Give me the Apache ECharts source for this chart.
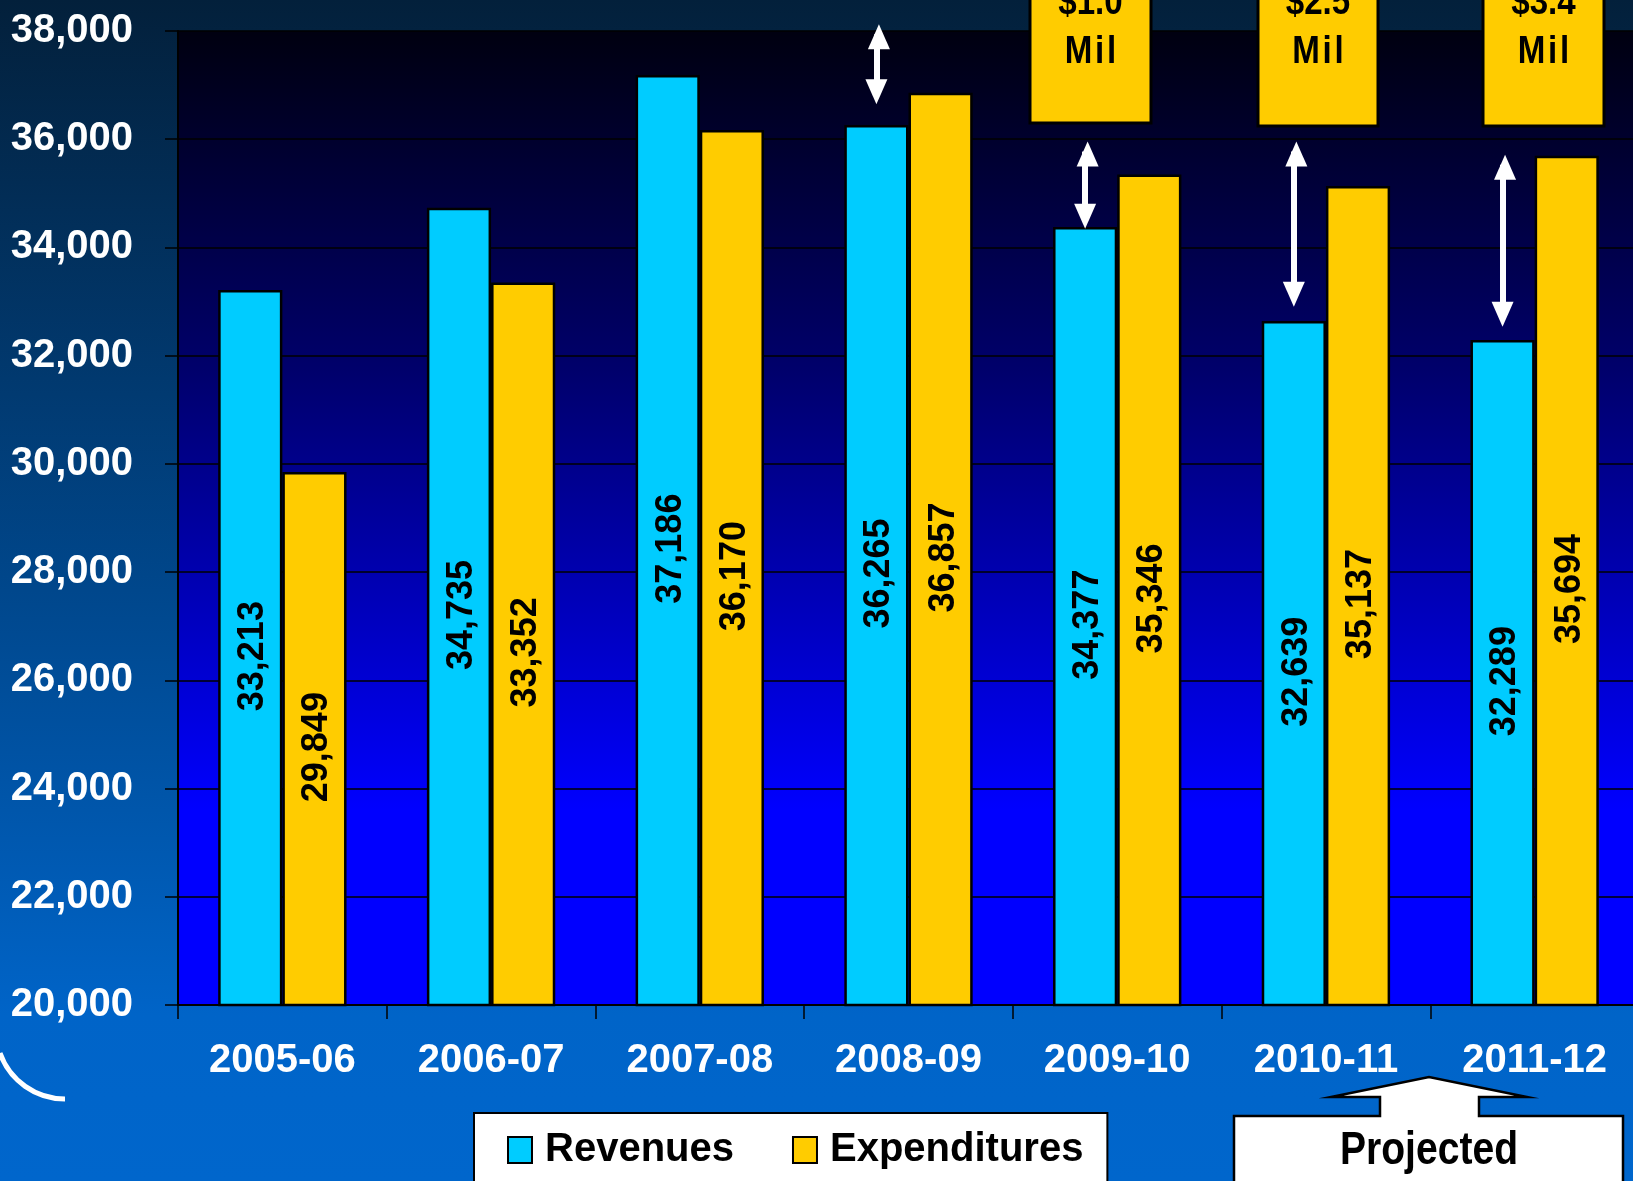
<!DOCTYPE html>
<html>
<head>
<meta charset="utf-8">
<script src="https://cdn.jsdelivr.net/npm/echarts@6/dist/echarts.min.js"></script>
<style>
html,body{margin:0;padding:0;background:#003a78;}
#chart{width:1633px;height:1181px;}
</style>
</head>
<body>
<div id="chart"></div>
<script>
// ---- data ----
const categories = ['2005-06','2006-07','2007-08','2008-09','2009-10','2010-11','2011-12'];
const revenues = [33213, 34735, 37186, 36265, 34377, 32639, 32289];
const expenditures = [29849, 33352, 36170, 36857, 35346, 35137, 35694];
const yTicks = {min: 20000, max: 38000, step: 2000};
// gap arrows (category, low value, high value)
const gapArrows = [
  ['2008-09', 36877, 37939],
  ['2009-10', 34577, 35772],
  ['2010-11', 33136, 35772],
  ['2011-12', 32766, 35526]
];
const gapLabels = ['$1.0', '$2.5', '$3.4'];
const gapUnit = 'Mil';
const seriesNames = ['Revenues', 'Expenditures'];
const projectedText = 'Projected';

const FONT = "'Liberation Sans Narrow','Arial Narrow','Liberation Sans',Arial,sans-serif";
const fmt = v => Number(v).toLocaleString('en-US');

const chart = echarts.init(document.getElementById('chart'), null, {renderer: 'canvas'});

const boxPos = [
  {x: 1030, w: 121, b: 123},
  {x: 1258, w: 120, b: 126},
  {x: 1483, w: 121, b: 126}
];
const boxGraphics = [];
gapLabels.forEach((lab, i) => {
  const p = boxPos[i];
  const cx = p.x + p.w / 2;
  boxGraphics.push(
    {type: 'rect', z: 200, shape: {x: p.x, y: -40, width: p.w, height: p.b + 40},
     style: {fill: '#ffcc00', stroke: '#000', lineWidth: 3}},
    {type: 'text', z: 201, x: cx, y: 23, scaleX: 0.85,
     style: {text: lab, fill: '#000', font: "bold 39px " + FONT, textAlign: 'center', textVerticalAlign: 'bottom'}},
    {type: 'text', z: 201, x: cx, y: 72, scaleX: 0.85,
     style: {text: gapUnit.split('').join('\u200A'), fill: '#000', font: "bold 39px " + FONT, textAlign: 'center', textVerticalAlign: 'bottom'}}
  );
});

const labelStyle = {show: true, position: 'inside', rotate: 90, offset: [-8, 3], color: '#000', fontFamily: FONT, fontWeight: 'bold', fontSize: 36, formatter: p => fmt(p.value)};

const option = {
  animation: false,
  backgroundColor: {
    type: 'linear', x: 0, y: 0, x2: 0, y2: 1,
    colorStops: [
      {offset: 0, color: '#03203b'},
      {offset: 0.5, color: '#00478c'},
      {offset: 0.86, color: '#0064c8'},
      {offset: 1, color: '#0066cc'}
    ]
  },
  grid: {
    left: 178, top: 31, right: -6, bottom: 176,
    outerBoundsMode: 'none', containLabel: false,
    show: true, borderWidth: 0,
    backgroundColor: {
      type: 'linear', x: 0, y: 0, x2: 0, y2: 1,
      colorStops: [
        {offset: 0, color: '#000010'},
        {offset: 0.35, color: '#00006c'},
        {offset: 0.8, color: '#0000ff'},
        {offset: 1, color: '#0000ff'}
      ]
    }
  },
  legend: {
    left: 474, top: 1113,
    orient: 'horizontal',
    data: seriesNames,
    icon: 'rect',
    itemWidth: 24, itemHeight: 26, itemGap: 58,
    padding: [12, 24, 40, 33],
    backgroundColor: '#fff', borderColor: '#000', borderWidth: 2,
    textStyle: {color: '#000', fontFamily: FONT, fontWeight: 'bold', fontSize: 40, lineHeight: 50, padding: [0, 0, 0, 8]}
  },
  xAxis: {
    type: 'category', data: categories,
    boundaryGap: true,
    axisLine: {show: true, lineStyle: {color: '#000', width: 2}},
    axisTick: {show: true, length: 14, lineStyle: {color: '#000', width: 1.5}},
    axisLabel: {interval: 0, color: '#fff', fontFamily: FONT, fontWeight: 'bold', fontSize: 40, margin: 36, hideOverlap: false},
    splitLine: {show: false}
  },
  yAxis: {
    type: 'value', min: yTicks.min, max: yTicks.max, interval: yTicks.step,
    axisLine: {show: true, lineStyle: {color: '#000', width: 2}},
    axisTick: {show: true, length: 13, lineStyle: {color: '#000', width: 1.5}},
    axisLabel: {color: '#fff', fontFamily: FONT, fontWeight: 'bold', fontSize: 40, margin: 45, formatter: fmt},
    splitLine: {show: true, lineStyle: {color: '#000', width: 1.5}}
  },
  series: [
    {
      name: seriesNames[0], type: 'bar', data: revenues,
      barGap: '0%', barCategoryGap: '38.5%',
      itemStyle: {color: '#00ccff', borderColor: '#000', borderWidth: 2.5},
      label: labelStyle,
      emphasis: {disabled: true},
      markLine: {
        silent: true,
        symbol: ['triangle', 'triangle'],
        symbolSize: [22, 25],
        symbolOffset: [0, 2.5],
        lineStyle: {color: '#fff', width: 6, type: 'solid'},
        itemStyle: {color: '#fff'},
        label: {show: false},
        emphasis: {disabled: true},
        data: gapArrows.map(a => [{coord: [a[0], a[1]]}, {coord: [a[0], a[2]]}])
      }
    },
    {
      name: seriesNames[1], type: 'bar', data: expenditures,
      barGap: '0%', barCategoryGap: '38.5%',
      itemStyle: {color: '#ffcc00', borderColor: '#000', borderWidth: 2.5},
      label: labelStyle,
      emphasis: {disabled: true}
    }
  ],
  graphic: [
    ...boxGraphics,
    {
      type: 'polygon', z: 200,
      shape: {points: [[1234,1200],[1234,1116],[1380,1116],[1380,1097],[1331,1097],[1429,1077],[1527,1097],[1479,1097],[1479,1116],[1623,1116],[1623,1200]]},
      style: {fill: '#fff', stroke: '#000', lineWidth: 2.5}
    },
    {
      type: 'text', z: 201, x: 1429, y: 1151, scaleX: 0.85,
      style: {text: projectedText, fill: '#000', font: "bold 46px " + FONT, textAlign: 'center', textVerticalAlign: 'middle'}
    },
    {
      type: 'arc', z: 200,
      shape: {cx: 65, cy: 1030, r: 69, startAngle: Math.PI / 2, endAngle: 2.8, clockwise: true},
      style: {stroke: '#fff', lineWidth: 5, fill: null}
    }
  ]
};
chart.setOption(option);
</script>
</body>
</html>
